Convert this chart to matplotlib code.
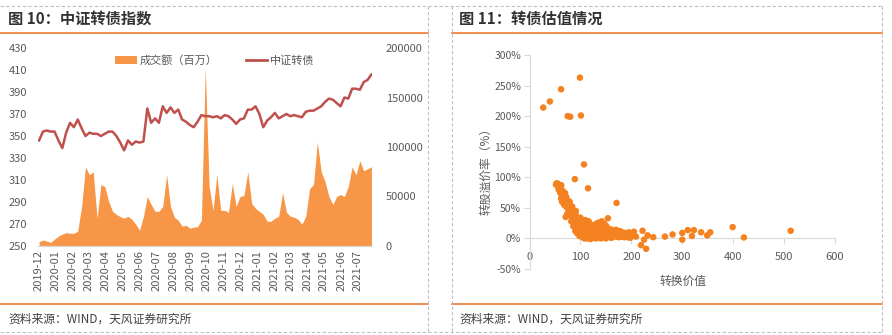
import matplotlib
matplotlib.use("Agg")
import matplotlib.pyplot as plt
from matplotlib.lines import Line2D
from matplotlib.patches import Patch
import matplotlib.dates as mdates
import pandas as pd
import numpy as np

plt.rcParams['font.family'] = ['Noto Sans CJK SC', 'DejaVu Sans']

# ---------------- data ----------------
start_date = "2019-12-02"
index_values = [346, 354, 355, 354, 354, 346, 339, 353, 362, 358, 365, 357, 350, 353, 352, 352,
                350, 352, 354, 354, 350, 344, 337, 346, 342, 345, 344, 345, 375, 362, 366, 362,
                377, 371, 376, 371, 374, 365, 363, 360, 358, 363, 369, 368, 368, 367, 368, 366,
                369, 368, 365, 361, 365, 366, 374, 374, 377, 370, 358, 364, 367, 371, 366, 368,
                370, 368, 369, 368, 367, 372, 373, 373, 375, 377, 381, 384, 383, 380, 377, 385,
                384, 393, 393, 392, 399, 401, 406]
volume_values = [4300, 6000, 5000, 3600, 7000, 10000, 12000, 13400, 13000, 12800, 15000, 40000,
                 80000, 72000, 75000, 28000, 62000, 60000, 45000, 35000, 32000, 29600, 28000, 30000,
                 27000, 22000, 16000, 30000, 50000, 42000, 35000, 35000, 40000, 72000, 40000, 29000,
                 26000, 20000, 21000, 18000, 19000, 19500, 26000, 180000, 60000, 36000, 72000, 36000,
                 36000, 34000, 63000, 40000, 50000, 51000, 75000, 43000, 38000, 35000, 32000, 25000,
                 25000, 28000, 30000, 54000, 34000, 30000, 29000, 27000, 22000, 30000, 58000, 62000,
                 105000, 75000, 65000, 50000, 42000, 50000, 52000, 50000, 60000, 80000, 72000, 86000,
                 76000, 78000, 80000]
month_labels = ["2019-12", "2020-01", "2020-02", "2020-03", "2020-04", "2020-05", "2020-06",
                "2020-07", "2020-08", "2020-09", "2020-10", "2020-11", "2020-12", "2021-01",
                "2021-02", "2021-03", "2021-04", "2021-05", "2021-06", "2021-07"]

conv_value = [27, 40, 62, 99, 75, 80, 101, 107, 89, 53, 62, 60, 115, 171, 154,
              205, 209, 219, 222, 225, 229, 232, 243, 266, 281, 300, 300, 311, 319, 323, 337, 349, 355, 399, 421, 513,
              52, 55, 58, 60, 62, 57, 60, 63, 65, 68, 70, 72, 62, 66, 70, 74, 68, 72, 75, 78, 64, 71, 76, 80, 82, 78, 85, 74, 80, 83,
              86, 88, 90, 92, 85, 88, 90, 94, 96, 92, 98, 100, 95, 100, 102, 104, 98, 100, 103, 106, 108, 110, 112, 105, 108, 110,
              114, 116, 118, 120, 96, 102, 106, 110, 112, 115, 118, 120, 122, 124, 126, 128, 130, 132, 134, 136, 138, 140, 142, 140,
              144, 146, 148, 150, 152, 154, 156, 158, 160, 162, 164, 166, 168, 170, 172, 174, 176, 178, 180, 182, 185, 188, 190, 193,
              196, 198, 200, 125, 130, 135, 140, 145, 150, 155, 160, 118, 122, 128, 112, 116, 133, 137, 143, 147, 151, 158, 165, 170,
              175, 180, 186, 192, 88, 92, 95, 99, 102, 107, 111, 114, 119, 123, 127, 131, 91, 84, 79, 73, 69, 66, 82, 86, 90, 94, 98,
              104, 108, 114, 120, 136, 148, 155, 162, 168, 178, 182, 195]
premium = [214, 224, 244, 263, 200, 199, 201, 121, 97, 90, 87, 84, 82, 58, 33,
           11, 3, -11, 12.5, -2, -17, 5, 2, 3, 6.5, 9, -2, 13.6, 4, 13.6, 10, 5, 10, 18.5, 1.6, 12.5,
           88, 90, 86, 84, 87, 80, 75, 70, 78, 72, 74, 68, 65, 62, 60, 63, 55, 52, 57, 55, 60, 35, 48, 50, 45, 42, 44, 40, 38, 35,
           42, 38, 40, 36, 30, 28, 33, 32, 28, 25, 30, 34, 22, 25, 28, 30, 18, 15, 20, 24, 27, 30, 25, 12, 16, 20,
           22, 28, 24, 20, 12, 8, 5, 10, 14, 8, 12, 16, 22, 10, 6, 14, 18, 8, 4, 12, 16, 22, 28, 6,
           10, 14, 4, 8, 12, 16, 6, 10, 4, 8, 2, 6, 4, 8, 3, 6, 2, 5, 8, 3, 6, 9, 4, 2,
           7, 1, 5, 2, 0, 1, 0, 2, 0, 3, 1, 4, 1, 3, 3, 6, 10, 20, 18, 24, 20, 15, 12, 14,
           10, 4, 2, 8, 22, 16, 26, 20, 14, 18, 6, 16, 8, 14, 20, 24, 45, 52, 60, 58, 66, 70, 28, 20, 12, 8, 4,
           2, 0, 0, -1, 26, 18, 10, 14, 10, 12, 10, 10]

y_ticks_pct = [-50, 0, 50, 100, 150, 200, 250, 300]

# ---------------- styling ----------------
W, H = 892, 335
fig = plt.figure(figsize=(W / 100, H / 100), dpi=100)

def fx(px):
    return px / W

def fy(py):
    return 1 - py / H

txt = '#595959'
orange_rule = '#ED7D31'
border = '#BFBFBF'

# frame decorations
for (x0, x1) in [(0, 428), (452, 882)]:
    for yy in (33, 304):
        fig.add_artist(Line2D([fx(x0), fx(x1)], [fy(yy), fy(yy)], color=orange_rule, lw=1.2))
for xx in (428, 452, 882):
    fig.add_artist(Line2D([fx(xx), fx(xx)], [fy(6), fy(332)], color=border, lw=0.8, ls=(0, (3, 2))))
fig.add_artist(Line2D([fx(0), fx(882)], [fy(6), fy(6)], color=border, lw=0.8, ls=(0, (3, 2))))
fig.add_artist(Line2D([fx(0), fx(882)], [fy(332), fy(332)], color=border, lw=0.8, ls=(0, (3, 2))))

fig.text(fx(8), fy(19), "图 10：中证转债指数", fontsize=11, fontweight='bold', color='#333333', va='center')
fig.text(fx(459), fy(19), "图 11：转债估值情况", fontsize=11, fontweight='bold', color='#333333', va='center')
fig.text(fx(8), fy(319), "资料来源：WIND，天风证券研究所", fontsize=8.5, color='#404040', va='center')
fig.text(fx(459), fy(319), "资料来源：WIND，天风证券研究所", fontsize=8.5, color='#404040', va='center')

# ---------------- left chart ----------------
dates = pd.date_range(start_date, periods=len(index_values), freq='7D')
ax_vol = fig.add_axes([fx(38), fy(246), fx(372) - fx(38), fy(48) - fy(246)])
ax_idx = ax_vol.twinx()

area_color = '#F79646'
line_color = '#C0504D'
ax_vol.fill_between(dates, volume_values, 0, color=area_color, lw=0)
ax_vol.set_ylim(0, 200000)
ax_vol.set_yticks([0, 50000, 100000, 150000, 200000])
ax_vol.set_yticklabels(["0", "50000", "100000", "150000", "200000"])
ax_vol.yaxis.tick_right()

ax_idx.plot(dates, index_values, color=line_color, lw=1.8)
ax_idx.set_ylim(250, 430)
ax_idx.set_yticks(list(range(250, 431, 20)))
ax_idx.yaxis.tick_left()

for a in (ax_vol, ax_idx):
    for s in ('top', 'left', 'right'):
        a.spines[s].set_visible(False)
    a.spines['bottom'].set_color('#D9D9D9')
    a.tick_params(axis='y', length=0, labelsize=8, labelcolor=txt, pad=8)
ax_vol.tick_params(axis='y', pad=10)

month_ticks = pd.to_datetime([m + "-01" for m in month_labels])
ax_vol.set_xticks(month_ticks)
ax_vol.set_xticklabels(month_labels, rotation=90)
ax_vol.tick_params(axis='x', length=0, labelsize=8, labelcolor=txt, pad=3)
ax_vol.set_xlim(pd.Timestamp("2019-11-30"), pd.Timestamp("2021-07-27"))

handles = [Patch(facecolor=area_color, edgecolor='none'), Line2D([0], [0], color=line_color, lw=2)]
ax_idx.legend(handles, ["成交额（百万）", "中证转债"], loc='center', bbox_to_anchor=(0.53, 0.935),
              ncol=2, frameon=False, fontsize=8, labelcolor=txt, handlelength=1.9,
              handletextpad=0.3, columnspacing=2.5)

# ---------------- right chart ----------------
ax3 = fig.add_axes([fx(529.5), fy(269), fx(835) - fx(529.5), fy(55) - fy(269)])
ax3.scatter(conv_value, premium, s=22, color='#F58220', edgecolors='none', zorder=3)
ax3.set_xlim(0, 600)
ax3.set_ylim(-50, 300)
ax3.set_xticks([0, 100, 200, 300, 400, 500, 600])
ax3.set_yticks(y_ticks_pct)
ax3.set_yticklabels([f"{v}%" for v in y_ticks_pct])
for s in ('top', 'right'):
    ax3.spines[s].set_visible(False)
ax3.spines['bottom'].set_position(('data', 0))
ax3.spines['bottom'].set_color('#D9D9D9')
ax3.spines['left'].set_color('#D9D9D9')
ax3.tick_params(axis='x', length=4, color='#D9D9D9', labelsize=8, labelcolor=txt, pad=6)
ax3.tick_params(axis='y', length=4, color='#D9D9D9', labelsize=7.5, labelcolor=txt, pad=2)
fig.text(fx(683), fy(281), "转换价值", fontsize=8.5, color=txt, ha='center', va='center')
fig.text(fx(486), fy(168), "转股溢价率（%）", fontsize=8.5, color=txt, ha='center', va='center', rotation=90)

fig.savefig("out.png", dpi=100)
